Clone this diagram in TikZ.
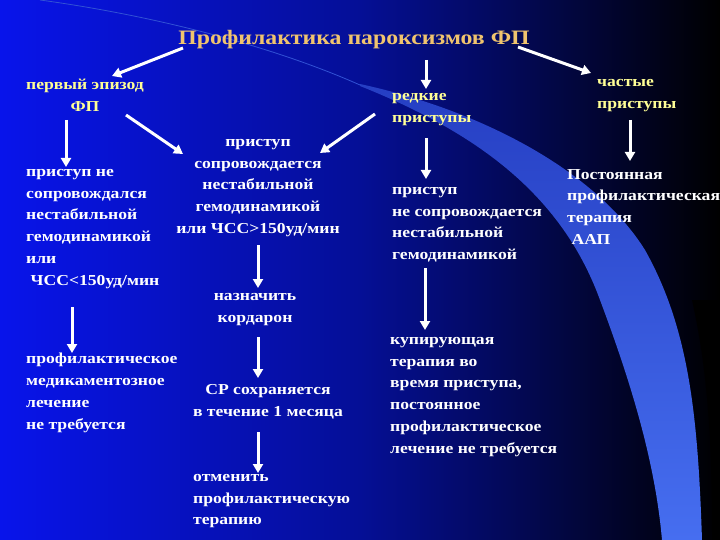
\documentclass[tikz,border=0pt]{standalone}
\usepackage{fontspec}
\setmainfont[FakeStretch=1.16]{Liberation Serif}
\usetikzlibrary{arrows.meta}
\definecolor{ttl}{RGB}{240,196,110}
\definecolor{ylw}{RGB}{255,255,150}
\definecolor{bgl}{RGB}{8,20,235}
\definecolor{bgm}{RGB}{5,15,150}
\definecolor{band}{RGB}{70,110,240}
\tikzset{
 txt/.style={inner sep=0pt,anchor=north west,align=left,text=white,font=\bfseries\fontsize{15.2}{21.8}\selectfont},
 ctxt/.style={txt,anchor=north,align=center},
 ytxt/.style={txt,text=ylw},
 arr/.style={draw=white,line width=3pt,-{Triangle[width=10pt,length=9pt]}}
}
\begin{document}
\begin{tikzpicture}[x=1pt,y=-1pt]
\useasboundingbox (0,0) rectangle (720,540);
\shade[left color=bgl,right color=black,middle color=bgm] (0,0) rectangle (720,540);
\shade[top color=band!50!bgm,bottom color=band] (360,86) .. controls (470,130) and (560,190) .. (600,300) .. controls (630,380) and (655,460) .. (662,540) -- (702,540) .. controls (698,420) and (690,330) .. (645,250) .. controls (595,170) and (480,110) .. (360,84) -- cycle;
\draw[band!70!bgm,line width=0.8pt] (40,0) .. controls (150,15) and (270,45) .. (360,85);
\fill[black] (692,300) .. controls (710,380) and (712,460) .. (712,540) -- (720,540) -- (720,300) -- cycle;

\node[inner sep=0pt,text=ttl,font=\bfseries\fontsize{20.5}{24}\selectfont] (title) at (354,40) {Профилактика пароксизмов ФП};
\node[ctxt,text=ylw] (first) at (85,79) {первый эпизод\\ФП};
\node[ytxt] (rare) at (392,93) {редкие\\приступы};
\node[ytxt] (freq) at (597,79) {частые\\приступы};
\node[ctxt] (unst) at (258,139) {приступ\\сопровождается\\нестабильной\\гемодинамикой\\или ЧСС>150уд/мин};
\node[txt] (stab) at (26,169) {приступ не\\сопровождался\\нестабильной\\гемодинамикой\\или\\\ ЧСС<150уд/мин};
\node[txt] (nstab) at (392,187) {приступ\\не сопровождается\\нестабильной\\гемодинамикой};
\node[txt] (const) at (567,169) {Постоянная\\профилактическая\\терапия\\\ ААП};
\node[ctxt] (kord) at (255,293) {назначить\\кордарон};
\node[txt] (noprof) at (26,353) {профилактическое\\медикаментозное\\лечение\\не требуется};
\node[ctxt] (sr) at (268,384) {СР сохраняется\\в течение 1 месяца};
\node[txt] (cancel) at (193,474) {отменить\\профилактическую\\терапию};
\node[txt] (kup) at (390,337) {купирующая\\терапия во\\время приступа,\\постоянное\\профилактическое\\лечение не требуется};

\coordinate (a1) at (183,48); \coordinate (b1) at (112,76);
\coordinate (a2) at (426,60); \coordinate (b2) at (426,89);
\coordinate (a3) at (518,47); \coordinate (b3) at (591,73);
\coordinate (a4) at (126,115); \coordinate (b4) at (183,154);
\coordinate (a5) at (375,114); \coordinate (b5) at (320,153);
\coordinate (a6) at (66,120); \coordinate (b6) at (66,167);
\coordinate (a7) at (426,138); \coordinate (b7) at (426,179);
\coordinate (a8) at (630,120); \coordinate (b8) at (630,161);
\coordinate (a9) at (258,245); \coordinate (b9) at (258,288);
\coordinate (a10) at (72,307); \coordinate (b10) at (72,353);
\coordinate (a11) at (258,337); \coordinate (b11) at (258,378);
\coordinate (a12) at (258,432); \coordinate (b12) at (258,473);
\coordinate (a13) at (425,268); \coordinate (b13) at (425,330);
\foreach \i in {1,...,13} \draw[arr] (a\i) -- (b\i);
\end{tikzpicture}
\end{document}
